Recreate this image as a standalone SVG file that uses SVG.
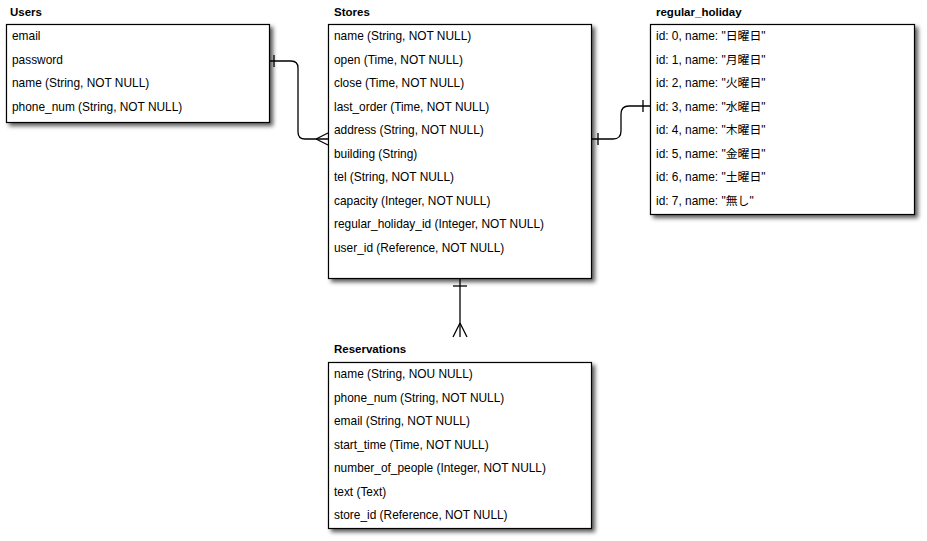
<svg xmlns="http://www.w3.org/2000/svg" width="927" height="541" viewBox="0 0 927 541">
<style>
.box{fill:#fff;stroke:#000;stroke-width:1.2;filter:url(#sh)}
.t{font-family:"Liberation Sans",Arial,"Noto Sans CJK JP",sans-serif;font-size:11.9px;fill:#000}
.h{font-family:"Liberation Sans",Arial,sans-serif;font-size:11.5px;font-weight:bold;fill:#000}
.c{fill:none;stroke:#000;stroke-width:1.3}
</style>
<defs>
<filter id="sh" x="-5%" y="-5%" width="115%" height="120%">
<feDropShadow dx="3" dy="3" stdDeviation="2.2" flood-color="#000" flood-opacity="0.65"/>
</filter>
</defs>
<rect width="927" height="541" fill="#fff"/>
<g id="connectors">
<path class="c" d="M269,61 H291 Q298,61 298,68 V132 Q298,139 305,139 H328"/>
<path class="c" d="M274,55 V67"/>
<path class="c" d="M316,139 L328,133 M316,139 L328,145"/>
<path class="c" d="M591,139 H613 Q621,139 621,131 V114 Q621,106 629,106 H650"/>
<path class="c" d="M598,133 V145 M643,100 V112"/>
<path class="c" d="M460,278 V337"/>
<path class="c" d="M453,286 H467"/>
<path class="c" d="M460,323 L453,337 M460,323 L467,337"/>
</g>
<g id="users">
<text class="h" x="10" y="16">Users</text>
<rect class="box" x="6.5" y="24.5" width="263" height="98"/>
<text class="t" x="12" y="40">email</text>
<text class="t" x="12" y="63.5">password</text>
<text class="t" x="12" y="87">name (String, NOT NULL)</text>
<text class="t" x="12" y="110.5">phone_num (String, NOT NULL)</text>
</g>
<g id="stores">
<text class="h" x="334" y="16">Stores</text>
<rect class="box" x="328.5" y="24.5" width="263" height="254"/>
<text class="t" x="334" y="40">name (String, NOT NULL)</text>
<text class="t" x="334" y="63.5">open (Time, NOT NULL)</text>
<text class="t" x="334" y="87">close (Time, NOT NULL)</text>
<text class="t" x="334" y="110.5">last_order (Time, NOT NULL)</text>
<text class="t" x="334" y="134">address (String, NOT NULL)</text>
<text class="t" x="334" y="157.5">building (String)</text>
<text class="t" x="334" y="181">tel (String, NOT NULL)</text>
<text class="t" x="334" y="204.5">capacity (Integer, NOT NULL)</text>
<text class="t" x="334" y="228">regular_holiday_id (Integer, NOT NULL)</text>
<text class="t" x="334" y="251.5">user_id (Reference, NOT NULL)</text>
</g>
<g id="regular_holiday">
<text class="h" x="656" y="16">regular_holiday</text>
<rect class="box" x="650.5" y="24.5" width="264" height="190"/>
<text class="t" x="656" y="40">id: 0, name: "日曜日"</text>
<text class="t" x="656" y="63.5">id: 1, name: "月曜日"</text>
<text class="t" x="656" y="87">id: 2, name: "火曜日"</text>
<text class="t" x="656" y="110.5">id: 3, name: "水曜日"</text>
<text class="t" x="656" y="134">id: 4, name: "木曜日"</text>
<text class="t" x="656" y="157.5">id: 5, name: "金曜日"</text>
<text class="t" x="656" y="181">id: 6, name: "土曜日"</text>
<text class="t" x="656" y="204.5">id: 7, name: "無し"</text>
</g>
<g id="reservations">
<text class="h" x="334" y="353">Reservations</text>
<rect class="box" x="328.5" y="362.5" width="263" height="166"/>
<text class="t" x="334" y="378">name (String, NOU NULL)</text>
<text class="t" x="334" y="401.5">phone_num (String, NOT NULL)</text>
<text class="t" x="334" y="425">email (String, NOT NULL)</text>
<text class="t" x="334" y="448.5">start_time (Time, NOT NULL)</text>
<text class="t" x="334" y="472">number_of_people (Integer, NOT NULL)</text>
<text class="t" x="334" y="495.5">text (Text)</text>
<text class="t" x="334" y="519">store_id (Reference, NOT NULL)</text>
</g>
</svg>
